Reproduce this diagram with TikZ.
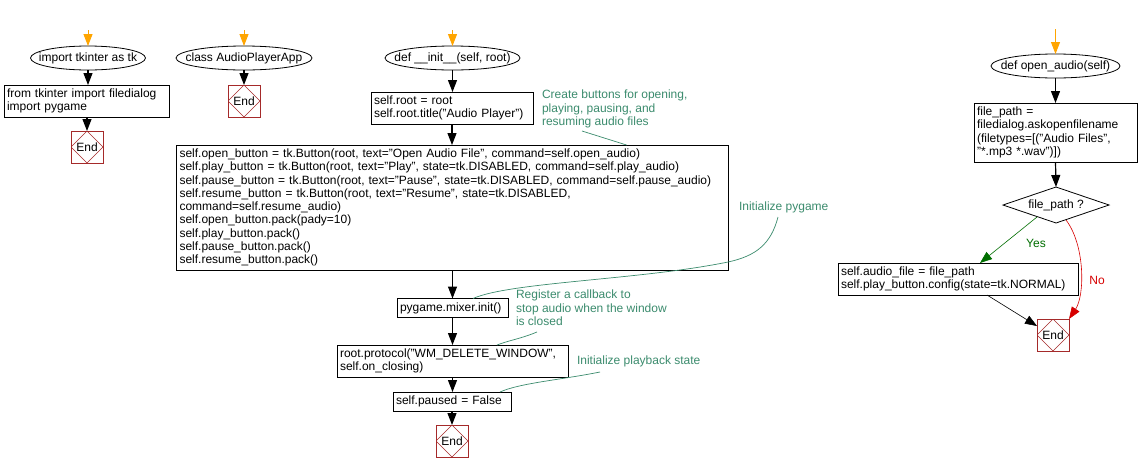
\documentclass[tikz,border=0pt]{standalone}
\usepackage{fontspec}
\setmainfont{Liberation Sans}
\usetikzlibrary{arrows.meta,shapes.geometric}
\definecolor{startorange}{RGB}{255,165,0}
\definecolor{endred}{RGB}{165,42,42}
\definecolor{notegreen}{RGB}{60,140,110}
\definecolor{yesgreen}{RGB}{0,110,0}
\definecolor{nored}{RGB}{215,0,0}
\tikzset{
  every node/.style={font=\fontsize{12}{13.3}\selectfont, outer sep=0pt},
  startbox/.style={minimum width=#1, minimum height=24pt, inner sep=0pt},
  procbox/.style={draw, line width=.8pt, text width=#1, inner xsep=3pt, inner ysep=0pt, align=left},
  endbox/.style={draw=endred, line width=.8pt, minimum size=32pt, inner sep=0pt,
    path picture={\draw[endred, line width=.5pt] (path picture bounding box.north) -- (path picture bounding box.east) -- (path picture bounding box.south) -- (path picture bounding box.west) -- cycle;}},
  decision/.style={diamond, draw, line width=.8pt, minimum width=106pt, minimum height=36pt, inner sep=0pt, aspect=2.9},
  note/.style={text=notegreen, align=left, inner sep=0pt, anchor=north west},
  flow/.style={line width=1.2pt, -{Triangle[width=9pt,length=12pt]}},
  startflow/.style={line width=1pt, draw=startorange, -{Triangle[width=9pt,length=12pt]}},
  noteline/.style={draw=notegreen, line width=.7pt},
  yesflow/.style={draw=yesgreen, line width=.6pt, -{Triangle[width=9pt,length=12pt]}},
  noflow/.style={draw=nored, line width=.6pt, -{Triangle[width=9pt,length=12pt]}},
}
\begin{document}
\begin{tikzpicture}[x=1pt,y=-1pt]
\useasboundingbox[fill=white] (0,0) rectangle (1139,472);

% ---------- column 1
\node[startbox=115pt] (s1) at (88,58) {import tkinter as tk};
\draw[line width=.8pt] (s1.center) ellipse [x radius=57.5pt, y radius=12pt];
\node[procbox=159pt, minimum height=32pt] (b1) at (86.5,101) {from tkinter import filedialog\\import pygame};
\node[endbox] (e1) at (87,147) {End};
\coordinate (st1) at (88,30);
\draw[startflow] (st1) -- (s1.north);
\draw[flow] (s1.south) -- (s1.south |- b1.north);
\draw[flow] (b1.south -| e1.north) -- (e1.north);

% ---------- column 2
\node[startbox=136pt] (s2) at (244,58) {class AudioPlayerApp};
\draw[line width=.8pt] (s2.center) ellipse [x radius=68pt, y radius=12pt];
\node[endbox] (e2) at (244,101) {End};
\coordinate (st2) at (244,30);
\draw[startflow] (st2) -- (s2.north);
\draw[flow] (s2.south) -- (e2.north);

% ---------- column 3
\node[startbox=135pt] (s3) at (452.5,58) {def \_\_init\_\_(self, root)};
\draw[line width=.8pt] (s3.center) ellipse [x radius=67.5pt, y radius=12pt];
\node[procbox=156pt, minimum height=32pt] (b3) at (452,108) {self.root = root\\self.root.title("Audio Player")};
\node[procbox=546pt, minimum height=125pt] (b4) at (452.5,207.5) {self.open\_button = tk.Button(root, text="Open Audio File", command=self.open\_audio)\\
self.play\_button = tk.Button(root, text="Play", state=tk.DISABLED, command=self.play\_audio)\\
self.pause\_button = tk.Button(root, text="Pause", state=tk.DISABLED, command=self.pause\_audio)\\
self.resume\_button = tk.Button(root, text="Resume", state=tk.DISABLED,\\
command=self.resume\_audio)\\
self.open\_button.pack(pady=10)\\
self.play\_button.pack()\\
self.pause\_button.pack()\\
self.resume\_button.pack()};
\node[procbox=105pt, minimum height=19pt] (b5) at (452.5,308) {pygame.mixer.init()};
\node[procbox=225pt, minimum height=32pt] (b6) at (452.5,361) {root.protocol("WM\_DELETE\_WINDOW",\\self.on\_closing)};
\node[procbox=112pt, minimum height=19pt] (b7) at (452,401.5) {self.paused = False};
\node[endbox] (e3) at (452,441) {End};
\coordinate (st3) at (452.5,30);
\draw[startflow] (st3) -- (s3.north);
\draw[flow] (s3.south) -- (s3.south |- b3.north);
\draw[flow] (b3.south) -- (b3.south |- b4.north);
\draw[flow] (b4.south -| b5.north) -- (b5.north);
\draw[flow] (b5.south) -- (b5.south |- b6.north);
\draw[flow] (b6.south) -- (b6.south |- b7.north);
\draw[flow] (b7.south -| e3.north) -- (e3.north);

% comments
\node[note] (c1) at (542,90) {Create buttons for opening,\\playing, pausing, and\\resuming audio files};
\node[note] (c2) at (739,202) {Initialize pygame};
\node[note] (c3) at (516,290) {Register a callback to\\stop audio when the window\\is closed};
\node[note] (c4) at (577,356) {Initialize playback state};
\coordinate (c1a) at (582,131);
\draw[noteline] (c1a) -- ([xshift=-102pt]b4.north east);
\coordinate (c2a) at (778,217);
\coordinate (c2m) at (728,262);
\draw[noteline] (c2a) .. controls (771,244) and (756,256) .. (c2m) .. controls (640,280) and (510,282) .. ([xshift=-35pt]b5.north east);
\coordinate (c3a) at (537,332);
\draw[noteline] (c3a) .. controls (520,339) and (510,340) .. ([xshift=-71pt]b6.north east);
\coordinate (c4a) at (600,372);
\draw[noteline] (c4a) .. controls (560,380) and (520,383) .. ([xshift=-11pt]b7.north east);

% ---------- column 4
\node[startbox=129pt] (s4) at (1055.5,66) {def open\_audio(self)};
\draw[line width=.8pt] (s4.center) ellipse [x radius=64.5pt, y radius=12pt];
\node[procbox=157pt, minimum height=59pt] (b8) at (1055.5,132.5) {file\_path =\\filedialog.askopenfilename\\(filetypes=[("Audio Files",\\"*.mp3 *.wav")])};
\node[decision] (d1) at (1056,205) {file\_path ?};
\node[procbox=234pt, minimum height=32pt] (b9) at (958,279) {self.audio\_file = file\_path\\self.play\_button.config(state=tk.NORMAL)};
\node[endbox] (e4) at (1053,335) {End};
\coordinate (st4) at (1055.5,29);
\draw[startflow] (st4) -- (s4.north);
\draw[flow] (s4.south) -- (s4.south |- b8.north);
\draw[flow] (b8.south) -- (d1.north);
\coordinate (ya) at (1037,217);
\draw[yesflow] (ya) -- ([xshift=142pt]b9.north west);
\node[text=yesgreen] (ylab) at (1036,243) {Yes};
\coordinate (na) at (1066,220);
\draw[noflow] (na) .. controls (1085,245) and (1085,295) .. (e4.north east);
\node[text=nored] (nlab) at (1097,280) {No};
\draw[line width=.6pt, -{Triangle[width=9pt,length=12pt]}] ([xshift=149pt]b9.south west) -- ([yshift=9pt]e4.west);
\end{tikzpicture}
\end{document}
